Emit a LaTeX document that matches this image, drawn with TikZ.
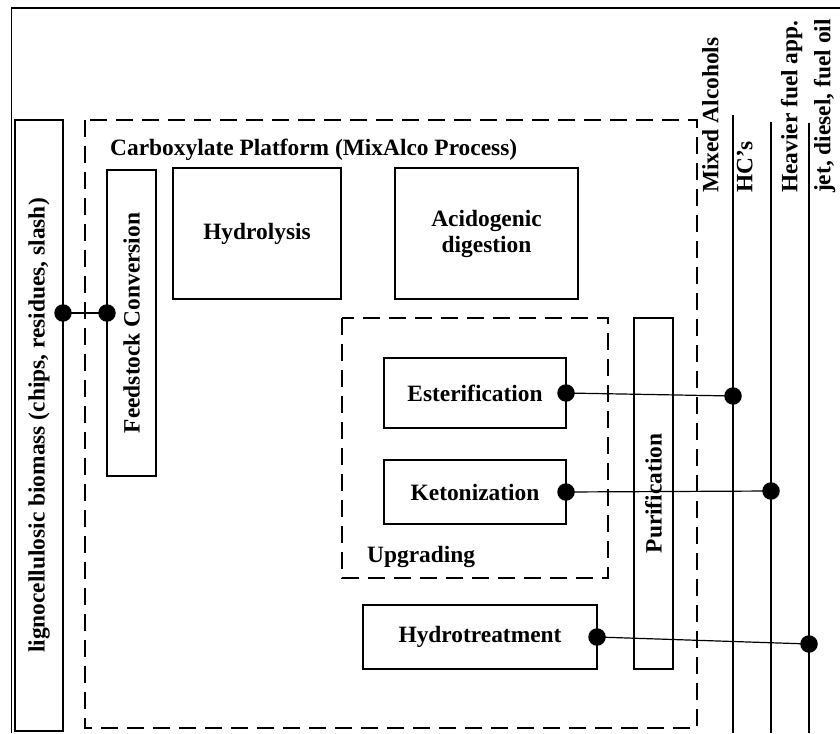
\documentclass[tikz,border=0pt]{standalone}
\usepackage{fontspec}
\setmainfont{Liberation Serif}
\begin{document}
\begin{tikzpicture}[x=1pt,y=-1pt,
  lbl/.style={font=\fontsize{23.4}{26}\selectfont\bfseries, inner sep=0pt},
  box/.style={draw, line width=2.5pt, inner sep=0pt, outer sep=0pt, lbl, align=center},
  dashbox/.style={draw, line width=2.5pt, dash pattern=on 17pt off 9pt},
  conn/.style={line width=1.2pt},
  dot/.style={circle, fill=black, inner sep=0pt, minimum size=17.5pt},
  outline/.style={line width=1.4pt},
  frame/.style={line width=1.7pt},
  outlbl/.style={lbl, rotate=90, anchor=west, text height=0.68em, text depth=0.2em}]

\useasboundingbox (0,0) rectangle (840,733);

% outer frame
\draw[frame] (840,8) -- (11.5,8) -- (11.5,733);

% dashed regions
\draw[dashbox] (85,120) rectangle (697,728);
\draw[dashbox] (342,318) rectangle (608,578);

% boxes
\node[box, minimum width=48pt, minimum height=611pt] (ligno) at (39,425.5) {};
\node[lbl, rotate=90] (lignotxt) at (ligno.center) {lignocellulosic biomass (chips, residues, slash)};

\node[box, minimum width=49pt, minimum height=306pt] (feed) at (131.5,323) {};
\node[lbl, rotate=90] (feedtxt) at (feed.center) {Feedstock Conversion};

\node[box, minimum width=168pt, minimum height=131pt] (hyd) at (257,233.5) {Hydrolysis};
\node[box, minimum width=183pt, minimum height=131pt] (acid) at (486.5,233.5) {Acidogenic\\digestion};

\node[box, minimum width=182pt, minimum height=70pt] (est) at (475,393) {Esterification};
\node[box, minimum width=182pt, minimum height=64pt] (ket) at (475,492) {Ketonization};

\node[box, minimum width=39pt, minimum height=351pt] (pur) at (653.5,493.5) {};
\node[lbl, rotate=90] (purtxt) at (pur.center) {Purification};

\node[box, minimum width=234pt, minimum height=64pt] (hdt) at (480,637) {Hydrotreatment};

% titles
\node[lbl, anchor=base west] (title) at (110,155) {Carboxylate Platform (MixAlco Process)};
\node[lbl, anchor=base west] (upg) at (367,562) {Upgrading};

% product lines
\coordinate (mixtop) at (733,115); \coordinate (mixbot) at (733,733);
\coordinate (hctop) at (771,122);  \coordinate (hcbot) at (771,733);
\coordinate (hvtop) at (809,123);  \coordinate (hvbot) at (809,733);
\draw[outline] (mixtop) -- (mixbot);
\draw[outline] (hctop) -- (hcbot);
\draw[outline] (hvtop) -- (hvbot);

\node[outlbl] (lmix) at (716,193) {Mixed Alcohols};
\node[outlbl] (lhc) at (750,193) {HC’s};
\node[outlbl] (lhv) at (795,193) {Heavier fuel app.};
\node[outlbl] (ljet) at (828,193) {jet, diesel, fuel oil};

% connectors
\coordinate (lgp) at (63,313);
\coordinate (fdp) at (107,313);
\coordinate (mixp) at (733,396);
\coordinate (hcp) at (771,491);
\coordinate (hvp) at (809,644);

\draw[conn] (lgp) -- (fdp);
\draw[conn] (est.east) -- (mixp);
\draw[conn] (ket.east) -- (hcp);
\draw[conn] (hdt.east) -- (hvp);

\node[dot] (d1) at (lgp) {};
\node[dot] (d2) at (fdp) {};
\node[dot] (d3) at (est.east) {};
\node[dot] (d4) at (mixp) {};
\node[dot] (d5) at (ket.east) {};
\node[dot] (d6) at (hcp) {};
\node[dot] (d7) at (hdt.east) {};
\node[dot] (d8) at (hvp) {};
\end{tikzpicture}
\end{document}
